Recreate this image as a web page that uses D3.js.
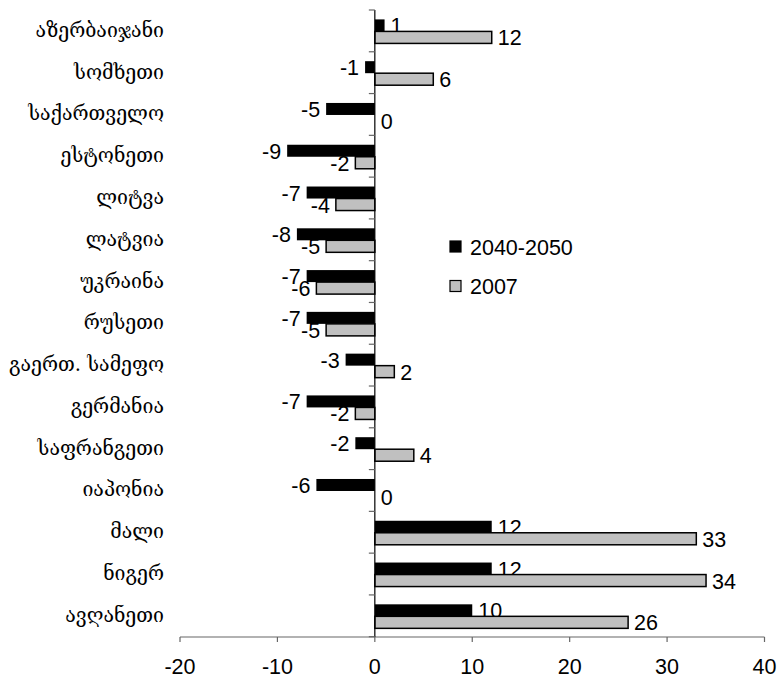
<!DOCTYPE html>
<html>
<head>
<meta charset="utf-8">
<script src="https://cdn.jsdelivr.net/npm/d3@7"></script>
<style>
  body { margin: 0; background: #fff; }
  text { font-family: "Liberation Sans", Arial, sans-serif; }
  .cat { font-family: "DejaVu Serif", serif; font-size: 19.5px; }
</style>
</head>
<body>
<div id="chart"></div>
<script>
var countries = ["აზერბაიჯანი", "სომხეთი", "საქართველო", "ესტონეთი", "ლიტვა", "ლატვია",
  "უკრაინა", "რუსეთი", "გაერთ. სამეფო", "გერმანია", "საფრანგეთი", "იაპონია",
  "მალი", "ნიგერ", "ავღანეთი"];
var series = ["2040-2050", "2007"];
var v2040 = [1, -1, -5, -9, -7, -8, -7, -7, -3, -7, -2, -6, 12, 12, 10];
var v2007 = [12, 6, 0, -2, -4, -5, -6, -5, 2, -2, 4, 0, 33, 34, 26];
var xTicks = [-20, -10, 0, 10, 20, 30, 40];
var fills = ["#000000", "#c0c0c0"];

var width = 778, height = 679, fs = 21.5;
var svg = d3.select("#chart").append("svg")
  .attr("width", width).attr("height", height);

var x = d3.scaleLinear().domain([-20, 40]).range([180, 764.5]);
var y = d3.scaleBand().domain(countries).range([10, 636.7]);
var sub = d3.scaleBand().domain(series).range([y.bandwidth() * 0.225, y.bandwidth() * 0.80]);

var data = [v2040, v2007];

// x axis
var gx = svg.append("g").attr("transform", "translate(0,637)");
gx.append("line").attr("x1", x(-20)).attr("x2", x(40)).attr("stroke", "#666").attr("stroke-width", 1.2);
gx.selectAll("line.tick").data(xTicks).enter().append("line")
  .attr("class", "tick")
  .attr("x1", d => x(d)).attr("x2", d => x(d))
  .attr("y1", 0).attr("y2", 5).attr("stroke", "#666").attr("stroke-width", 1.2);
gx.selectAll("text").data(xTicks).enter().append("text")
  .attr("x", d => x(d)).attr("y", 37)
  .attr("text-anchor", "middle").style("font-size", fs + "px")
  .text(d => d);

// category labels
svg.selectAll("text.cat").data(countries).enter().append("text")
  .attr("class", "cat")
  .attr("x", 164)
  .attr("y", d => y(d) + y.bandwidth() / 2 + 6)
  .attr("text-anchor", "end")
  .text(d => d);

var bars = svg.append("g");

series.forEach(function(s, si) {
  var rows = countries.map((c, i) => ({ c: c, v: data[si][i] }));
  bars.selectAll("rect.s" + si).data(rows.filter(d => d.v !== 0)).enter().append("rect")
    .attr("class", "s" + si)
    .attr("x", d => x(Math.min(0, d.v)))
    .attr("width", d => Math.abs(x(d.v) - x(0)))
    .attr("y", d => y(d.c) + sub(s))
    .attr("height", sub.bandwidth())
    .attr("fill", fills[si])
    .attr("stroke", si === 1 ? "#000" : "none")
    .attr("stroke-width", 1.5);
  bars.selectAll("text.s" + si).data(rows).enter().append("text")
    .attr("class", "s" + si)
    .attr("x", d => d.v < 0 ? x(d.v) - 6 : x(d.v) + 6)
    .attr("y", d => y(d.c) + sub(s) + sub.bandwidth() / 2 + 8)
    .attr("text-anchor", d => d.v < 0 ? "end" : "start")
    .style("font-size", fs + "px")
    .text(d => d.v);
});

// y axis
var gy = svg.append("g");
gy.append("line").attr("x1", x(0)).attr("x2", x(0)).attr("y1", 10).attr("y2", 637)
  .attr("stroke", "#000").attr("stroke-width", 1.2);
gy.selectAll("line.tick").data(countries.concat(["end"])).enter().append("line")
  .attr("x1", x(0) - 6).attr("x2", x(0))
  .attr("y1", (d, i) => 10 + i * y.step()).attr("y2", (d, i) => 10 + i * y.step())
  .attr("stroke", "#666").attr("stroke-width", 1.2);

// legend
var lg = svg.append("g").attr("transform", "translate(450,241)");
series.forEach(function(s, i) {
  lg.append("rect").attr("x", 0).attr("y", i * 39.5).attr("width", 11).attr("height", 11)
    .attr("fill", fills[i]).attr("stroke", "#000").attr("stroke-width", 1.2);
  lg.append("text").attr("x", 20).attr("y", i * 39.5 + 13.5)
    .style("font-size", fs + "px").text(s);
});
</script>
</body>
</html>
